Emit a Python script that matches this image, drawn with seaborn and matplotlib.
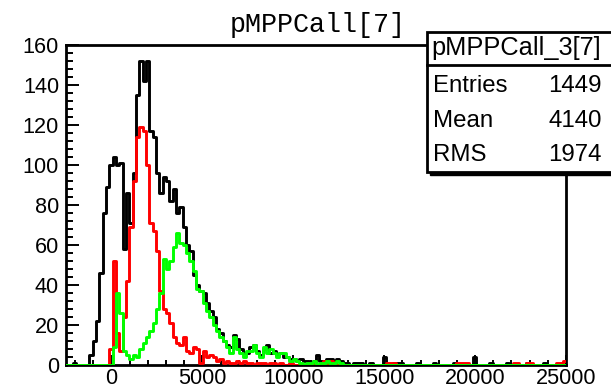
import numpy as np
import pandas as pd
import matplotlib
matplotlib.use("Agg")
import matplotlib.pyplot as plt
from matplotlib.patches import Rectangle
from matplotlib.lines import Line2D
from matplotlib.ticker import MultipleLocator
import seaborn as sns

# ---------------- data ----------------
x_min, x_max, n_bins = -2500, 25000, 150

black_counts = [
    0, 0, 1, 0, 0, 0, 0, 5, 12, 22,            # 0-9
    46, 76, 89, 100, 104, 100, 101, 58, 86, 71,  # 10-19
    96, 135, 152, 142, 152, 117, 114, 96, 86, 94,  # 20-29
    92, 82, 88, 76, 79, 69, 60, 57, 45, 40,      # 30-39
    37, 36, 31, 27, 24, 18, 16, 12, 10, 9,       # 40-49
    15, 13, 8, 6, 6, 9, 10, 7, 5, 8,             # 50-59
    10, 6, 7, 5, 6, 4, 4, 3, 3, 2,               # 60-69
    3, 2, 2, 1, 2, 5, 2, 2, 3, 3,                # 70-79
    1, 3, 2, 1, 1, 0, 1, 1, 1, 0,                # 80-89
    0, 1, 0, 0, 0, 4, 0, 0, 1, 1,                # 90-99
    1, 0, 0, 0, 0, 1, 0, 0, 0, 0,                # 100-109
    1, 0, 0, 0, 0, 0, 1, 0, 0, 0,                # 110-119
    0, 0, 4, 0, 0, 0, 0, 1, 0, 0,                # 120-129
    0, 0, 1, 0, 0, 0, 0, 0, 1, 0,                # 130-139
    0, 0, 0, 1, 0, 0, 0, 0, 0, 0,                # 140-149
]

red_counts = [
    0, 0, 0, 0, 0, 0, 0, 0, 0, 0,                # 0-9
    0, 0, 0, 8, 52, 16, 7, 24, 42, 69,           # 10-19
    92, 114, 119, 117, 100, 71, 67, 57, 37, 28,  # 20-29
    26, 21, 14, 11, 10, 14, 7, 6, 9, 8,          # 30-39
    1, 7, 4, 5, 4, 2, 3, 1, 2, 1,                # 40-49
    1, 2, 1, 2, 1, 1, 0, 1, 1, 1,                # 50-59
    0, 1, 1, 0, 1, 0, 0, 1, 0, 0,                # 60-69
    0, 0, 0, 0, 0, 0, 0, 2, 1, 2,                # 70-79
    1, 0, 0, 0, 0, 0, 0, 0, 0, 0,                # 80-89
    0, 0, 0, 0, 0, 0, 1, 1, 1, 0,                # 90-99
    0, 0, 0, 0, 0, 0, 0, 0, 0, 0,                # 100-109
    0, 0, 0, 0, 0, 0, 0, 1, 1, 1,                # 110-119
    1, 0, 0, 0, 0, 0, 0, 0, 0, 0,                # 120-129
    0, 0, 0, 0, 1, 1, 0, 0, 1, 1,                # 130-139
    0, 0, 0, 0, 0, 0, 0, 1, 1, 2,                # 140-149
]

green_counts = [
    0, 0, 0, 0, 0, 0, 0, 0, 0, 0,                # 0-9
    0, 0, 0, 0, 9, 36, 26, 7, 5, 3,              # 10-19
    5, 4, 8, 11, 14, 17, 21, 28, 36, 53,         # 20-29
    48, 52, 59, 66, 61, 60, 56, 52, 47, 38,      # 30-39
    37, 31, 27, 24, 20, 17, 14, 12, 9, 6,        # 40-49
    14, 8, 6, 4, 7, 7, 10, 6, 4, 9,              # 50-59
    6, 8, 6, 4, 6, 6, 4, 2, 3, 2,                # 60-69
    1, 0, 1, 1, 2, 0, 1, 1, 2, 1,                # 70-79
    1, 2, 1, 0, 0, 0, 0, 0, 0, 0,                # 80-89
] + [0] * 60                                     # 90-149

series_names = ["pMPPCall[7]", "pMPPCall_2[7]", "pMPPCall_3[7]"]
series_colors = ["#000000", "#ff0000", "#00ff00"]

title_text = "pMPPCall[7]"
stats_title = "pMPPCall_3[7]"
stats_labels = ["Entries", "Mean", "RMS"]
stats_values = ["1449", "4140", "1974"]

y_ticks = [0, 20, 40, 60, 80, 100, 120, 140, 160]
x_ticks = [0, 5000, 10000, 15000, 20000, 25000]

# ---------------- build table ----------------
edges = np.linspace(x_min, x_max, n_bins + 1)
centers = 0.5 * (edges[:-1] + edges[1:])
frames = []
for name, counts in zip(series_names, [black_counts, red_counts, green_counts]):
    frames.append(pd.DataFrame({"x": centers, "w": counts, "series": name}))
df = pd.concat(frames, ignore_index=True)

# ---------------- figure ----------------
W, H = 611, 388
fig = plt.figure(figsize=(W / 100, H / 100), dpi=100)
fig.patch.set_facecolor("white")

def fx(px):
    return px / W

def fy(py):
    return 1 - py / H

ax = fig.add_axes([fx(66), fy(365), fx(566) - fx(66), fy(45) - fy(365)])
ax.set_facecolor("white")

for name, col in zip(series_names, series_colors):
    sns.histplot(data=df[df["series"] == name], x="x", weights="w",
                 bins=edges.tolist(),
                 element="step", fill=False, color=col, linewidth=2.1,
                 zorder=3, ax=ax)

ax.set_xlim(x_min, x_max)
ax.set_ylim(0, 160)
ax.set_xlabel("")
ax.set_ylabel("")

ax.set_yticks(y_ticks)
ax.set_xticks(x_ticks)
ax.yaxis.set_minor_locator(MultipleLocator(4))
ax.xaxis.set_minor_locator(MultipleLocator(1000))

lab_font = {"family": "Liberation Sans", "size": 15.6}
ax.set_yticklabels([str(v) for v in y_ticks], fontdict=lab_font)
ax.set_xticklabels([str(v) for v in x_ticks], fontdict=lab_font)

ax.tick_params(axis="y", which="major", direction="in", length=9.5, width=1.4,
               left=True, right=False, pad=5)
ax.tick_params(axis="y", which="minor", direction="in", length=4.8, width=1.4,
               left=True, right=False)
ax.tick_params(axis="x", which="major", direction="in", length=7, width=1.4,
               bottom=True, top=False, pad=2.5)
ax.tick_params(axis="x", which="minor", direction="in", length=3.5, width=1.4,
               bottom=True, top=False)

for s in ax.spines.values():
    s.set_linewidth(2.0)
    s.set_color("black")

# title
fig.text(fx(318), fy(25), title_text, family="Liberation Mono", fontsize=19.3,
         ha="center", va="center")

# stats box (with ROOT-like shadow)
bx0, by0, bx1, by1 = 427, 32, 640, 172
shadow = Rectangle((fx(bx0 + 3), fy(by1 + 3)), fx(bx1) - fx(bx0), fy(by0) - fy(by1),
                   transform=fig.transFigure, facecolor="black", edgecolor="black",
                   zorder=5)
box = Rectangle((fx(bx0), fy(by1)), fx(bx1) - fx(bx0), fy(by0) - fy(by1),
                transform=fig.transFigure, facecolor="white", edgecolor="black",
                linewidth=2.0, zorder=6)
fig.patches.extend([shadow, box])
fig.lines.append(Line2D([fx(bx0), fx(bx1)], [fy(65), fy(65)], transform=fig.transFigure,
                        color="black", linewidth=2.0, zorder=7))

fig.text(fx(431), fy(48), stats_title, family="Liberation Sans", fontsize=18.3,
         ha="left", va="center", zorder=8)
row_y = [86, 121, 155]
for lbl, val, yy in zip(stats_labels, stats_values, row_y):
    fig.text(fx(433), fy(yy), lbl, family="Liberation Sans", fontsize=17.3,
             ha="left", va="center", zorder=8)
    fig.text(fx(602), fy(yy), val, family="Liberation Sans", fontsize=17.3,
             ha="right", va="center", zorder=8)

fig.savefig("out.png", dpi=100)
